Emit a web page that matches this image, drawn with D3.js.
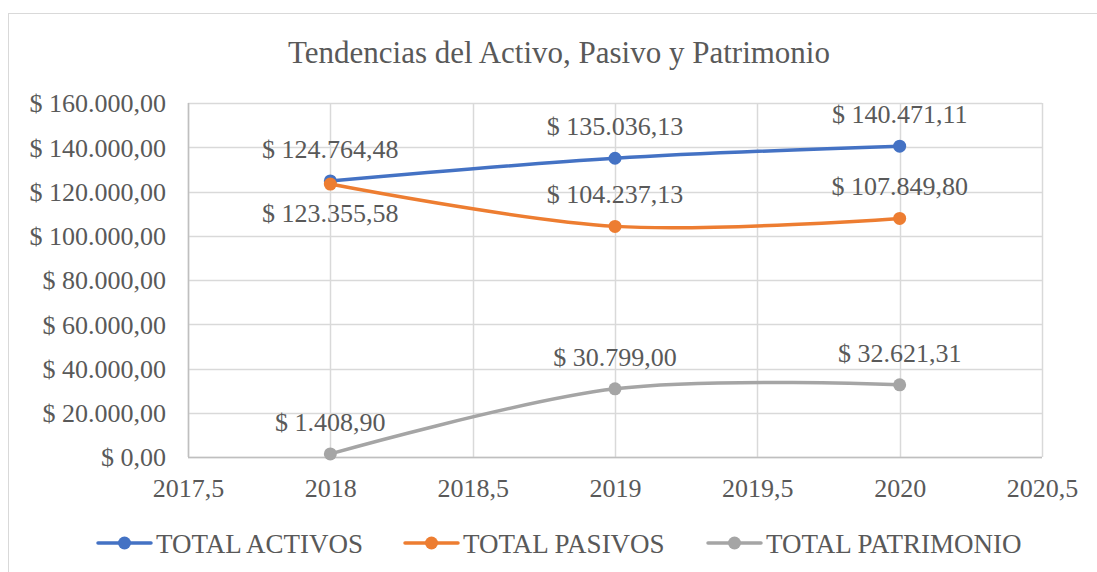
<!DOCTYPE html>
<html>
<head>
<meta charset="utf-8">
<script src="https://cdn.jsdelivr.net/npm/d3@7"></script>
<style>
  body { margin: 0; background: #fff; }
  text { font-family: "Liberation Serif", "Times New Roman", "DejaVu Serif", serif; fill: #595959; }
</style>
</head>
<body>
<div id="chart"></div>
<script>
// data
var years = [2018, 2019, 2020];
var seriesNames = ["TOTAL ACTIVOS", "TOTAL PASIVOS", "TOTAL PATRIMONIO"];
var activos = [124764.48, 135036.13, 140471.11];
var pasivos = [123355.58, 104237.13, 107849.80];
var patrimonio = [1408.90, 30799.00, 32621.31];
var xTicks = [2017.5, 2018, 2018.5, 2019, 2019.5, 2020, 2020.5];
var yTicks = [0, 20000, 40000, 60000, 80000, 100000, 120000, 140000, 160000];

var colors = ["#4472C4", "#ED7D31", "#A5A5A5"];
// where each data label goes relative to its point
var labelSide = [
    ["above", "above", "above"],
    ["below", "above", "above"],
    ["above", "above", "above"]
];

var svgWidth = 1097;
var svgHeight = 572;

var margin = { top: 103, right: 55, bottom: 115, left: 188 };
var width = svgWidth - margin.left - margin.right;
var height = svgHeight - margin.top - margin.bottom;

var svg = d3.select("#chart")
    .append("svg")
    .attr("width", svgWidth)
    .attr("height", svgHeight);

// outer chart border
svg.append("rect")
    .attr("x", 8.5)
    .attr("y", 13.5)
    .attr("width", 1100)
    .attr("height", 600)
    .attr("fill", "none")
    .attr("stroke", "#d9d9d9");

svg.append("text")
    .attr("x", 559)
    .attr("y", 63)
    .attr("text-anchor", "middle")
    .attr("font-size", "31px")
    .text("Tendencias del Activo, Pasivo y Patrimonio");

var chartGroup = svg.append("g")
    .attr("transform", `translate(${margin.left}, ${margin.top})`);

var x = d3.scaleLinear().domain([2017.5, 2020.5]).range([0, width]);
var y = d3.scaleLinear().domain([0, 160000]).range([height, 0]);

// number formats: "$ 160.000,00" and "2017,5"
var esLocale = d3.formatLocale({ decimal: ",", thousands: ".", grouping: [3], currency: ["$ ", ""] });
var money = esLocale.format("$,.2f");
var yearFmt = function (d) { return String(d).replace(".", ","); };

// gridlines
chartGroup.append("g")
    .selectAll("line.hgrid")
    .data(yTicks)
    .enter()
    .append("line")
    .attr("x1", 0)
    .attr("x2", width)
    .attr("y1", d => Math.round(y(d)) + 0.5)
    .attr("y2", d => Math.round(y(d)) + 0.5)
    .attr("stroke", "#d9d9d9")
    .attr("stroke-width", 1.5);

chartGroup.append("g")
    .selectAll("line.vgrid")
    .data(xTicks)
    .enter()
    .append("line")
    .attr("x1", d => Math.round(x(d)) + 0.5)
    .attr("x2", d => Math.round(x(d)) + 0.5)
    .attr("y1", 0)
    .attr("y2", height)
    .attr("stroke", "#d9d9d9")
    .attr("stroke-width", 1.5);

// axis lines
chartGroup.append("line")
    .attr("x1", 0).attr("x2", width)
    .attr("y1", height + 0.5).attr("y2", height + 0.5)
    .attr("stroke", "#bfbfbf").attr("stroke-width", 1.5);
chartGroup.append("line")
    .attr("x1", 0.5).attr("x2", 0.5)
    .attr("y1", 0).attr("y2", height)
    .attr("stroke", "#bfbfbf").attr("stroke-width", 1.5);

// axes (labels only)
var leftAxis = d3.axisLeft(y).tickValues(yTicks).tickFormat(money).tickSize(0).tickPadding(22);
var bottomAxis = d3.axisBottom(x).tickValues(xTicks).tickFormat(yearFmt).tickSize(0).tickPadding(20);

var yAxisG = chartGroup.append("g").call(leftAxis);
var xAxisG = chartGroup.append("g").attr("transform", `translate(0, ${height})`).call(bottomAxis);
[yAxisG, xAxisG].forEach(function (g) {
    g.attr("font-family", null).attr("font-size", null);
    g.select(".domain").remove();
    g.selectAll("text")
        .attr("font-size", "26px")
        .attr("fill", "#595959");
});
yAxisG.selectAll("text").attr("dy", "0.34em");
xAxisG.selectAll("text").attr("dy", "0.75em");

// series
var allSeries = [activos, pasivos, patrimonio];
var line = d3.line()
    .x(d => x(d.year))
    .y(d => y(d.value))
    .curve(d3.curveCatmullRom.alpha(0));

allSeries.forEach(function (values, i) {
    var pts = years.map((yr, j) => ({ year: yr, value: values[j], side: labelSide[i][j] }));
    var g = chartGroup.append("g");

    g.append("path")
        .datum(pts)
        .attr("d", line)
        .attr("fill", "none")
        .attr("stroke", colors[i])
        .attr("stroke-width", 3.5)
        .attr("stroke-linecap", "round");

    g.selectAll("circle")
        .data(pts)
        .enter()
        .append("circle")
        .attr("cx", d => x(d.year))
        .attr("cy", d => y(d.value))
        .attr("r", 6.5)
        .attr("fill", colors[i]);
});

// data labels on top
allSeries.forEach(function (values, i) {
    var pts = years.map((yr, j) => ({ year: yr, value: values[j], side: labelSide[i][j] }));
    chartGroup.append("g")
        .selectAll("text")
        .data(pts)
        .enter()
        .append("text")
        .attr("x", d => x(d.year))
        .attr("y", d => y(d.value) + (d.side === "above" ? -23 : 38))
        .attr("text-anchor", "middle")
        .attr("font-size", "26px")
        .text(d => money(d.value));
});

// legend
var legendX = [98, 405, 708];
var legend = svg.append("g").attr("transform", "translate(0, 543)");
seriesNames.forEach(function (name, i) {
    var item = legend.append("g").attr("transform", `translate(${legendX[i]}, 0)`);
    item.append("line")
        .attr("x1", 0).attr("x2", 53)
        .attr("y1", 0).attr("y2", 0)
        .attr("stroke", colors[i])
        .attr("stroke-width", 3.5)
        .attr("stroke-linecap", "round");
    item.append("circle")
        .attr("cx", 26.5).attr("cy", 0).attr("r", 6.5)
        .attr("fill", colors[i]);
    item.append("text")
        .attr("x", 58)
        .attr("y", 9.5)
        .attr("font-size", "27px")
        .text(name);
});
</script>
</body>
</html>
